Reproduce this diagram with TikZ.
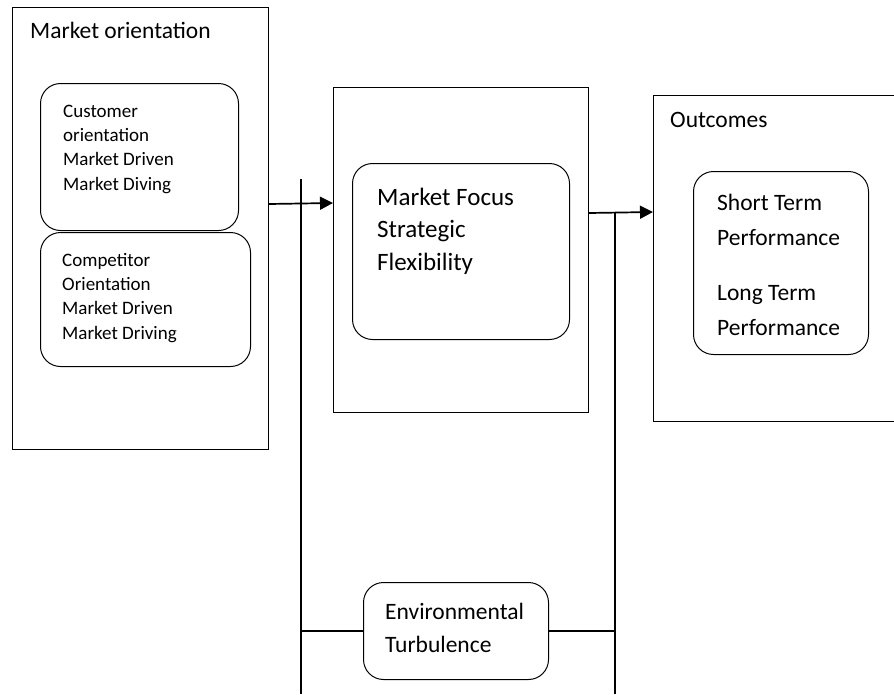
\documentclass[tikz,border=0pt]{standalone}
\usepackage{fontspec}
\setmainfont{Carlito}
\usetikzlibrary{positioning,arrows.meta}

\begin{document}
\begin{tikzpicture}[x=1pt, y=-1pt,
  frame/.style={draw, line width=1pt, anchor=north west, inner sep=0pt},
  roundbox/.style={frame, rounded corners=20pt},
  label/.style={anchor=base west, inner sep=0pt, align=left},
  big/.style={font=\fontsize{23.5}{33}\selectfont},
  small/.style={font=\fontsize{19}{24.2}\selectfont},
  arrow/.style={-{Triangle[length=13pt,width=13pt]}, line width=1.7pt},
  link/.style={line width=1.1pt}
]
\useasboundingbox (0,0) rectangle (894,694);
\clip (0,0) rectangle (894,694);

% left block
\node[frame, minimum width=256pt, minimum height=442pt] (mo) at (12,7) {};
\node[label, big] (molab) at (30,38) {Market orientation};
\node[roundbox, minimum width=198pt, minimum height=147pt] (cust) at (40,83) {};
\node[label, small] (custlab) at (63,190) {Customer\\orientation\\Market Driven\\Market Diving};
\node[roundbox, minimum width=210pt, minimum height=134pt] (comp) at (40,232) {};
\node[label, small] (complab) at (62,339) {Competitor\\Orientation\\Market Driven\\Market Driving};

% middle block
\node[frame, minimum width=255pt, minimum height=325pt] (mf) at (333,87) {};
\node[roundbox, minimum width=217pt, minimum height=176pt] (mfin) at (352,163) {};
\node[label, font=\fontsize{25}{32.5}\selectfont] (mflab) at (377,270) {Market Focus\\Strategic\\Flexibility};

% right block
\node[frame, minimum width=260pt, minimum height=326pt] (out) at (653,95) {};
\node[label, big] (outlab) at (670,127) {Outcomes};
\node[roundbox, minimum width=175pt, minimum height=183pt] (outin) at (693,171) {};
\node[label, font=\fontsize{23.5}{35}\selectfont] (perflab) at (717,335) {Short Term\\Performance\\[20pt]Long Term\\Performance};

% moderator
\node[roundbox, minimum width=185pt, minimum height=97pt] (env) at (363,582) {};
\node[label, big] (envlab) at (385,652) {Environmental\\Turbulence};

\coordinate (v1top) at (301,179);
\coordinate (v1bot) at (301,694);
\coordinate (v2top) at (615,213);
\coordinate (v2bot) at (615,694);

\draw[link] (v1top) -- (v1bot);
\draw[link] (v2top) -- (v2bot);
\draw[link] (v1bot |- env.west) -- (env.west);
\draw[link] (env.east) -- (v2bot |- env.east);

\draw[arrow] (mo.east |- 0,204) -- (mf.west |- 0,203);
\draw[arrow] (mf.east |- 0,213) -- (out.west |- 0,212);
\end{tikzpicture}
\end{document}
